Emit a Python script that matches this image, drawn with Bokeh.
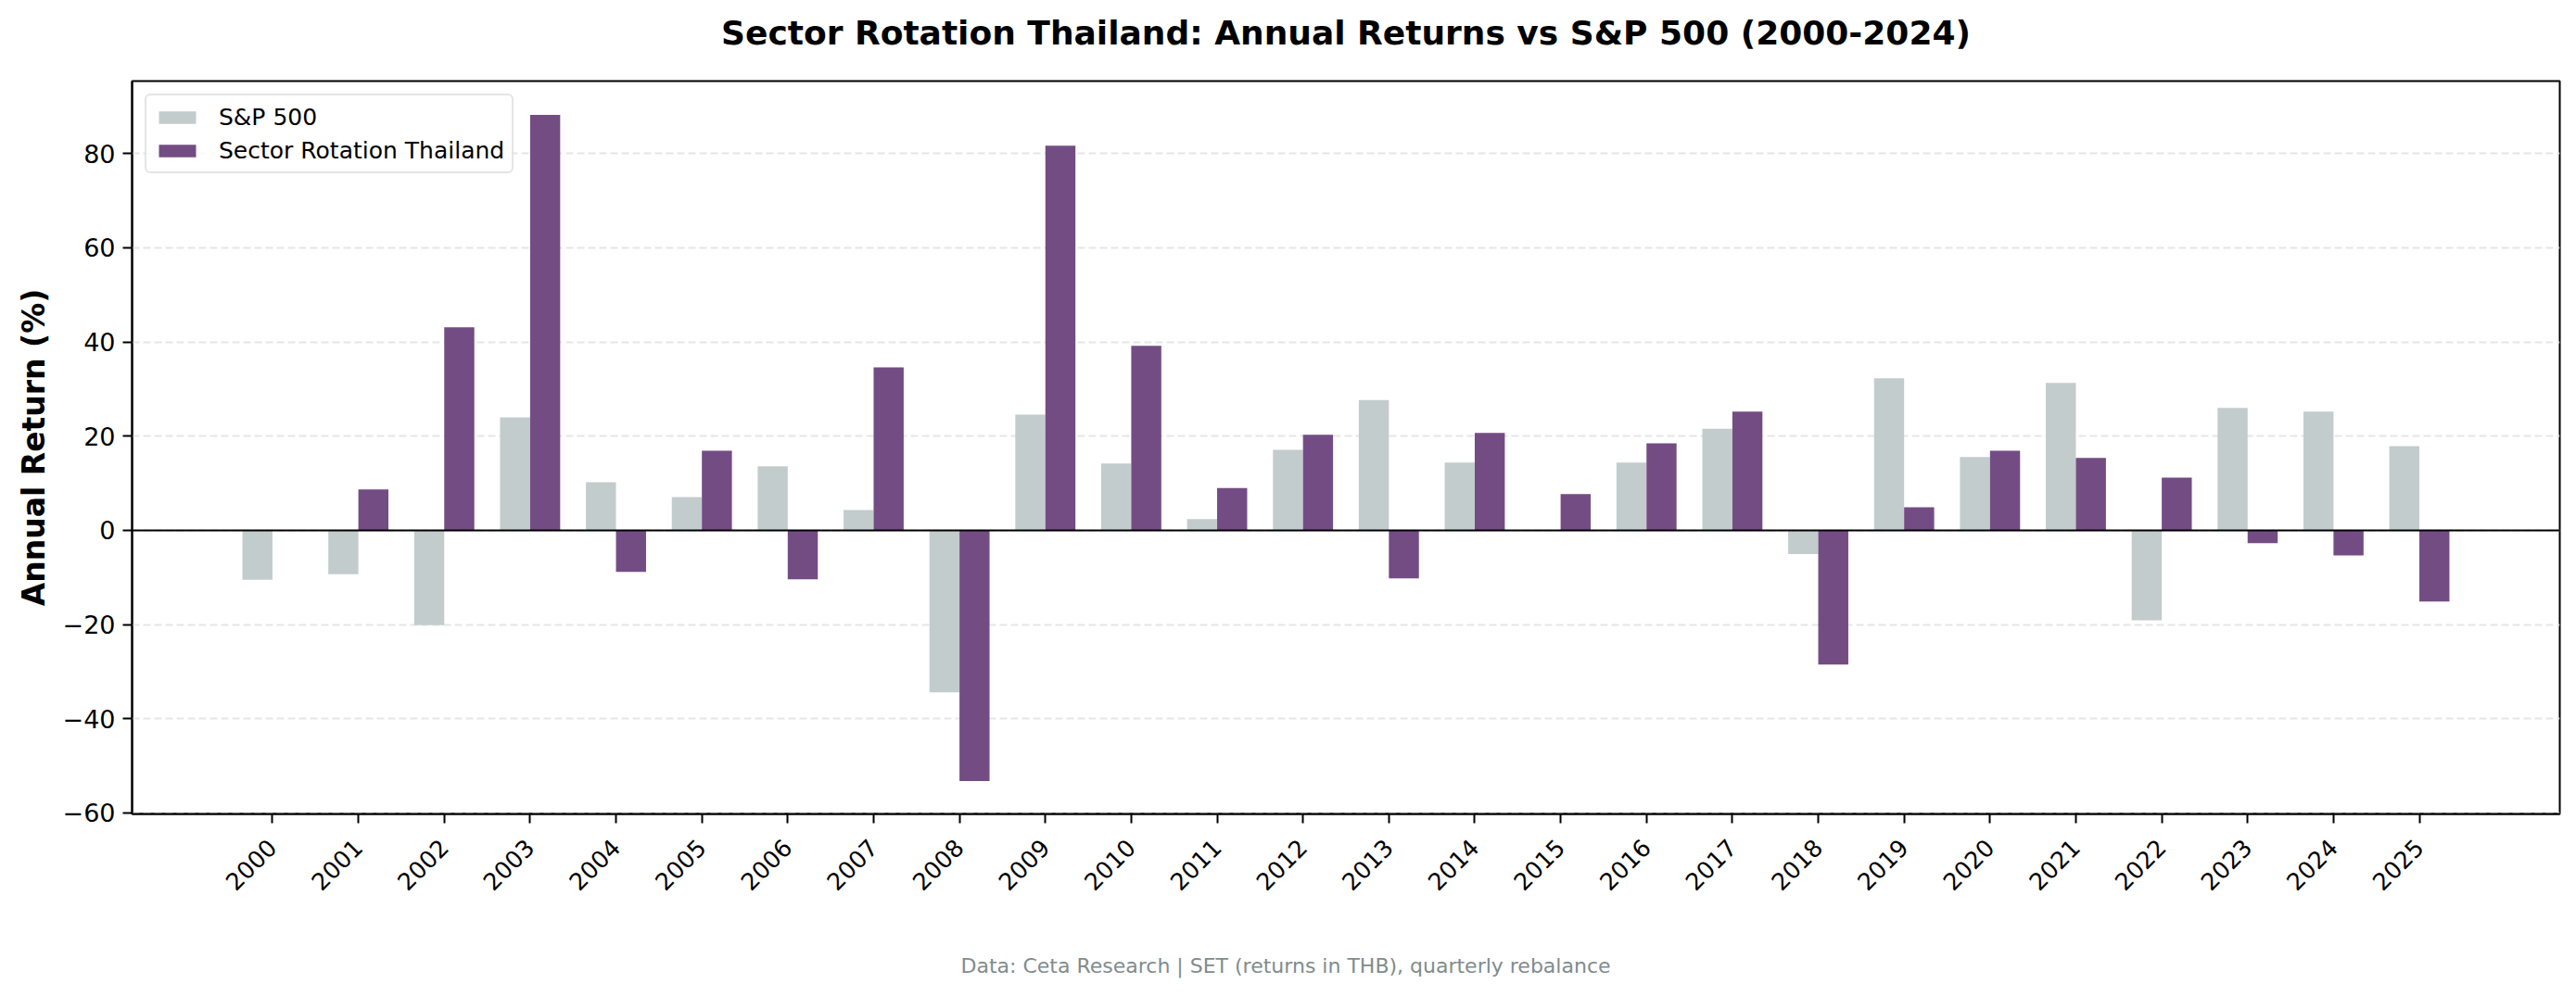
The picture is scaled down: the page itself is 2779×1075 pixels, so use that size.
import math
from bokeh.plotting import figure
from bokeh.models import (ColumnDataSource, FixedTicker, Range1d, Span, Legend,
                          LegendItem, Title)
from bokeh.transform import dodge
from bokeh.embed import file_html
from bokeh.resources import INLINE

# ---- data ----
years = list(range(2000, 2026))
sp500 = [-10.5, -9.3, -20.1, 24.0, 10.2, 7.1, 13.6, 4.3, -34.4, 24.6, 14.2, 2.4, 17.1,
         27.7, 14.4, 0.0, 14.4, 21.6, -5.0, 32.3, 15.6, 31.3, -19.1, 26.0, 25.2, 17.9]
strategy = [0.0, 8.7, 43.1, 88.2, -8.8, 16.9, -10.4, 34.6, -53.2, 81.7, 39.2, 9.0, 20.3,
            -10.2, 20.7, 7.7, 18.5, 25.2, -28.5, 4.9, 16.9, 15.4, 11.2, -2.7, -5.3, -15.1]
y_ticks = [-60, -40, -20, 0, 20, 40, 60, 80]

title_text = "Sector Rotation Thailand: Annual Returns vs S&P 500 (2000-2024)"
footer_text = "Data: Ceta Research | SET (returns in THB), quarterly rebalance"
series_names = ["S&P 500", "Sector Rotation Thailand"]
colors = ["#c3cccd", "#744c84"]

FONT = "DejaVu Sans"
bar_w = 0.35

src = ColumnDataSource(dict(year=years, sp=sp500, st=strategy))

p = figure(
    output_backend="svg", toolbar_location=None,
    frame_width=2619, frame_height=791,
    min_border_left=142, min_border_right=2, min_border_top=87, min_border_bottom=150,
    x_range=Range1d(years[0] - 1.635, years[-1] + 1.635),
    y_range=Range1d(-60.2, 95.4),
    background_fill_color="white", border_fill_color="white",
)

# title: an empty second line lifts the text higher inside its panel
p.title.text = title_text + "\n"
p.title.align = "center"
p.title.text_font = FONT
p.title.text_font_size = "36px"
p.title.text_font_style = "bold"
p.title.text_color = "black"
p.title.text_line_height = 0.764
p.title.standoff = 0

r_sp = p.vbar(x=dodge("year", -bar_w / 2, range=p.x_range), top="sp", width=bar_w,
              source=src, fill_color=colors[0], line_color=None)
r_st = p.vbar(x=dodge("year", bar_w / 2, range=p.x_range), top="st", width=bar_w,
              source=src, fill_color=colors[1], line_color=None)

p.add_layout(Span(location=0, dimension="width", line_color="black", line_width=2))

# axes
p.xaxis.ticker = FixedTicker(ticks=years)
p.xaxis.major_label_orientation = math.pi / 4
p.xaxis.major_label_text_font = FONT
p.xaxis.major_label_text_font_size = "25.5px"
p.yaxis.ticker = FixedTicker(ticks=y_ticks)
p.yaxis.major_label_overrides = {t: (f"\u2212{abs(t)}" if t < 0 else str(t)) for t in y_ticks}
p.yaxis.major_label_text_font = FONT
p.yaxis.major_label_text_font_size = "27px"
p.yaxis.axis_label = "Annual Return (%)"
p.yaxis.axis_label_text_font = FONT
p.yaxis.axis_label_text_font_size = "33px"
p.yaxis.axis_label_text_font_style = "bold"
p.yaxis.axis_label_text_color = "black"
p.yaxis.axis_label_standoff = 9
for ax in (p.xaxis, p.yaxis):
    ax.axis_line_color = "black"
    ax.axis_line_width = 2
    ax.major_tick_out = 10
    ax.major_tick_in = 0
    ax.major_tick_line_width = 2
    ax.minor_tick_line_color = None
    ax.major_label_text_color = "black"
p.yaxis.major_label_standoff = 8
p.xaxis.major_label_standoff = 22

p.outline_line_color = "black"
p.outline_line_width = 2
p.outline_line_alpha = 1

p.xgrid.grid_line_color = None
p.ygrid.ticker = FixedTicker(ticks=y_ticks)
p.ygrid.grid_line_color = "#e6e6e6"
p.ygrid.grid_line_width = 2
p.ygrid.grid_line_dash = "8 4"

legend = Legend(
    items=[LegendItem(label=series_names[0], renderers=[r_sp]),
           LegendItem(label=series_names[1], renderers=[r_st])],
    location="top_left", margin=14, padding=8, spacing=6,
    label_standoff=20, glyph_width=50, glyph_height=17, label_height=30,
    label_text_font=FONT, label_text_font_size="25px", label_text_baseline="middle",
    label_text_color="black",
    border_line_color="#cccccc", border_line_width=2, border_radius=6,
    background_fill_color="white", background_fill_alpha=0.8,
)
p.add_layout(legend)

# spacer between the x axis and the footer line
p.add_layout(Title(text=" ", standoff=26, text_font=FONT, text_font_size="22px"), "below")
footer = Title(text=footer_text, align="left", offset=894, standoff=4,
               text_font=FONT, text_font_size="22px", text_font_style="normal",
               text_color="#7f8c8d")
p.add_layout(footer, "below")

open("out.html", "w").write(file_html(p, INLINE))
